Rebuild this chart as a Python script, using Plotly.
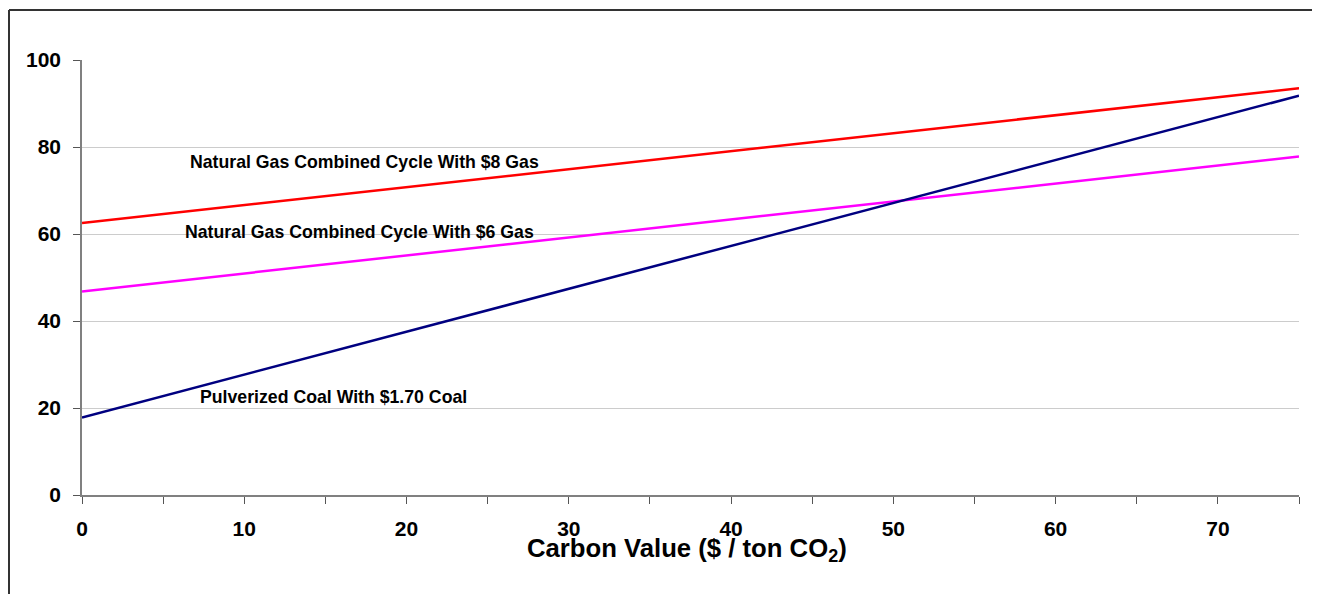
import plotly.graph_objects as go

carbon_value = [0, 75]
ngcc_8_gas = [62.5, 93.5]
ngcc_6_gas = [46.8, 77.8]
pc_coal = [17.8, 91.8]

series_names = ["Natural Gas Combined Cycle With $8 Gas",
                "Natural Gas Combined Cycle With $6 Gas",
                "Pulverized Coal With $1.70 Coal"]
series_colors = ["#FF0000", "#FF00FF", "#000080"]
label_pos = [(17.44, 76.6), (17.13, 60.5), (15.47, 22.5)]

y_tickvals = [0, 20, 40, 60, 80, 100]

FONT = "Arial, Liberation Sans, sans-serif"

W, H = 1304, 586
L, T = 74, 52
PW, PH = 1217, 435

fig = go.Figure()
for name, ys, col in zip(series_names, [ngcc_8_gas, ngcc_6_gas, pc_coal], series_colors):
    fig.add_trace(go.Scatter(x=carbon_value, y=ys, mode="lines", name=name,
                             line=dict(color=col, width=2.5), showlegend=False,
                             cliponaxis=False))

for name, (xx, yy) in zip(series_names, label_pos):
    fig.add_annotation(x=xx, y=yy, xref="x", yref="y", text="<b>%s</b>" % name,
                       showarrow=False, font=dict(family=FONT, size=17.7, color="black"))

fig.add_annotation(x=(679 - L) / PW, y=(T + PH - 542) / PH, xref="paper", yref="paper",
                   text="<b>Carbon Value ($ / ton CO<sub>2</sub>)</b>", showarrow=False,
                   xanchor="center", yanchor="middle",
                   font=dict(family=FONT, size=25.7, color="black"))

# outer chart border (left and top)
bx = (1 - L) / PW
by = 1 + (T - 2) / PH
fig.add_shape(type="line", xref="paper", yref="paper", x0=bx, x1=bx, y0=-0.4, y1=by,
              line=dict(color="#333333", width=2))
fig.add_shape(type="line", xref="paper", yref="paper", x0=bx, x1=1.1, y0=by, y1=by,
              line=dict(color="#333333", width=2))

fig.update_layout(
    width=W, height=H,
    margin=dict(l=L, r=W - L - PW, t=T, b=H - T - PH),
    paper_bgcolor="white", plot_bgcolor="white",
    font=dict(family=FONT, color="black"),
    xaxis=dict(range=[0, 75], tick0=0, dtick=10,
               ticks="outside", ticklen=7, tickcolor="#555555", showgrid=False,
               minor=dict(tick0=0, dtick=5, ticks="outside", ticklen=7, tickcolor="#555555",
                          showgrid=False),
               showline=True, linecolor="#808080", linewidth=1.5, zeroline=False,
               tickfont=dict(family=FONT, size=21, color="black", weight="bold"),
               ticklabelstandoff=7),
    yaxis=dict(range=[0, 100], tickmode="array", tickvals=y_tickvals,
               ticks="outside", ticklen=7, tickcolor="#555555",
               showgrid=True, gridcolor="#cccccc", gridwidth=1,
               showline=True, linecolor="#808080", linewidth=1.5, zeroline=False,
               tickfont=dict(family=FONT, size=21, color="black", weight="bold"),
               ticklabelstandoff=8),
)

fig.write_html("out.html")
